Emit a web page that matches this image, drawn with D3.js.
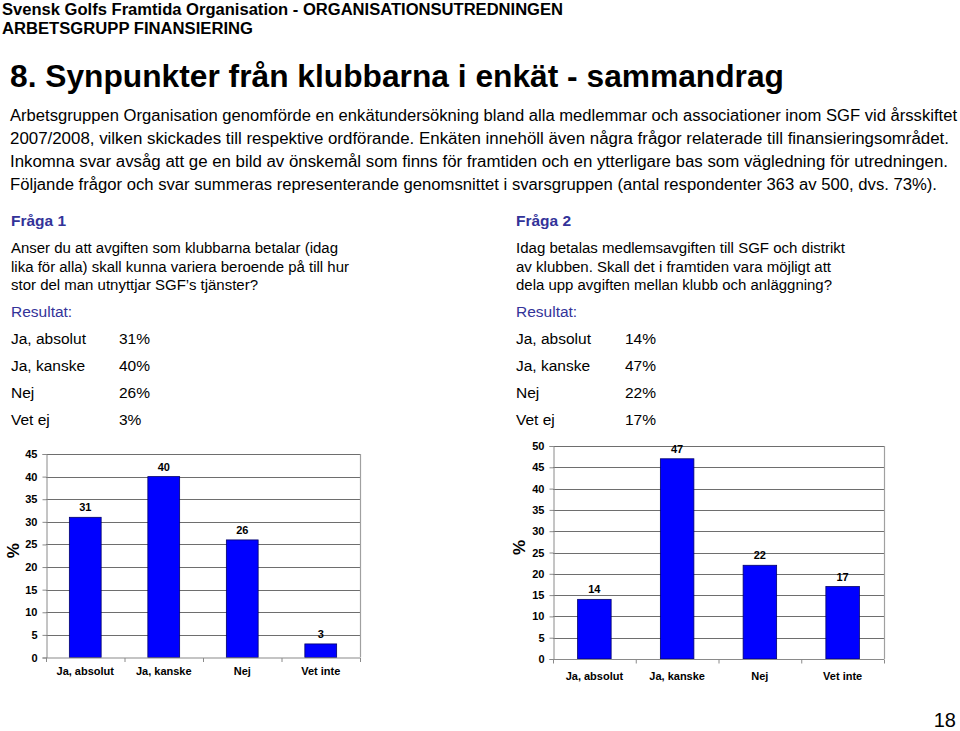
<!DOCTYPE html>
<html>
<head>
<meta charset="utf-8">
<script src="https://cdn.jsdelivr.net/npm/d3@7"></script>
<style>
  html, body { margin: 0; padding: 0; background: #fff; }
  svg { display: block; font-family: "Liberation Sans", Arial, sans-serif; }
</style>
</head>
<body>
<svg id="chart" width="960" height="731"></svg>
<script>
// ---- data ----
const headerLines = ["Svensk Golfs Framtida Organisation - ORGANISATIONSUTREDNINGEN", "ARBETSGRUPP FINANSIERING"];
const pageTitle = "8. Synpunkter från klubbarna i enkät - sammandrag";
const introLines = [
  "Arbetsgruppen Organisation genomförde en enkätundersökning bland alla medlemmar och associationer inom SGF vid årsskiftet",
  "2007/2008, vilken skickades till respektive ordförande. Enkäten innehöll även några frågor relaterade till finansieringsområdet.",
  "Inkomna svar avsåg att ge en bild av önskemål som finns för framtiden och en ytterligare bas som vägledning för utredningen.",
  "Följande frågor och svar summeras representerande genomsnittet i svarsgruppen (antal respondenter 363 av 500, dvs. 73%)."
];
const q1Title = "Fråga 1";
const q1Text = ["Anser du att avgiften som klubbarna betalar (idag", "lika för alla) skall kunna variera beroende på till hur", "stor del man utnyttjar SGF’s tjänster?"];
const q2Title = "Fråga 2";
const q2Text = ["Idag betalas medlemsavgiften till SGF och distrikt", "av klubben. Skall det i framtiden vara möjligt att", "dela upp avgiften mellan klubb och anläggning?"];
const resultLabel = "Resultat:";
const answerLabels = ["Ja, absolut", "Ja, kanske", "Nej", "Vet ej"];
const q1Values = [31, 40, 26, 3];
const q2Values = [14, 47, 22, 17];
const chartCategories = ["Ja, absolut", "Ja, kanske", "Nej", "Vet inte"];
const q1Ticks = [0, 5, 10, 15, 20, 25, 30, 35, 40, 45];
const q2Ticks = [0, 5, 10, 15, 20, 25, 30, 35, 40, 45, 50];
const yAxisLabel = "%";
const pageNumber = "18";

// ---- drawing ----
const svg = d3.select("#chart");
const navy = "#333399";

// header
svg.selectAll("text.hdr").data(headerLines).join("text")
  .attr("class", "hdr")
  .attr("x", 2).attr("y", (d, i) => 14.5 + i * 19)
  .attr("font-size", 16).attr("font-weight", "bold").attr("fill", "#000")
  .attr("textLength", (d, i) => i === 0 ? 561 : 251).attr("lengthAdjust", "spacingAndGlyphs")
  .text(d => d);

// title
svg.append("text").attr("x", 10).attr("y", 87)
  .attr("font-size", 31.5).attr("font-weight", "bold")
  .attr("textLength", 774).attr("lengthAdjust", "spacingAndGlyphs")
  .text(pageTitle);

// intro paragraph
const introEnds = [957, 949, 948, 937];
svg.selectAll("text.intro").data(introLines).join("text")
  .attr("class", "intro")
  .attr("x", 10).attr("y", (d, i) => 121 + i * 23)
  .attr("font-size", 16)
  .attr("textLength", (d, i) => introEnds[i] - 10)
  .attr("lengthAdjust", "spacingAndGlyphs")
  .text(d => d);

function questionBlock(x0, valX, title, lines, ends, values) {
  const g = svg.append("g");
  g.append("text").attr("x", x0).attr("y", 226).attr("font-size", 15.5)
    .attr("font-weight", "bold").attr("fill", navy).text(title);
  g.selectAll("text.q").data(lines).join("text").attr("class", "q")
    .attr("x", x0).attr("y", (d, i) => 253 + i * 18.7).attr("font-size", 15.5)
    .attr("textLength", (d, i) => ends[i] - x0).attr("lengthAdjust", "spacingAndGlyphs")
    .text(d => d);
  g.append("text").attr("x", x0).attr("y", 317).attr("font-size", 15.5)
    .attr("fill", navy).text(resultLabel);
  const rows = g.selectAll("g.row").data(answerLabels).join("g").attr("class", "row")
    .attr("transform", (d, i) => `translate(0, ${343.5 + i * 27.2})`);
  rows.append("text").attr("x", x0).attr("font-size", 15.5).text(d => d);
  rows.append("text").attr("x", valX).attr("font-size", 15.5).text((d, i) => values[i] + "%");
}
questionBlock(11, 119, q1Title, q1Text, [338, 349, 258], q1Values);
questionBlock(516, 625, q2Title, q2Text, [845, 831, 832], q2Values);

function barChart(opts) {
  const { left, right, top, bottom, max, ticks, values, labelX, catDy } = opts;
  const g = svg.append("g");
  const x = d3.scaleBand().domain(chartCategories).range([left, right])
    .paddingInner(0.595).paddingOuter(0.595 / 2);
  const y = d3.scaleLinear().domain([0, max]).range([bottom, top]);

  // gridlines
  g.selectAll("line.grid").data(ticks.filter(t => t > 0)).join("line")
    .attr("class", "grid")
    .attr("x1", left).attr("x2", right)
    .attr("y1", d => Math.round(y(d)) + 0.5).attr("y2", d => Math.round(y(d)) + 0.5)
    .attr("stroke", "#6e6e6e").attr("stroke-width", 1.2);
  // right border
  g.append("line").attr("x1", right + 0.5).attr("x2", right + 0.5)
    .attr("y1", y(max)).attr("y2", bottom)
    .attr("stroke", "#a0a0a0").attr("stroke-width", 1.2);

  // bars
  g.selectAll("rect.bar").data(values).join("rect").attr("class", "bar")
    .attr("x", (d, i) => x(chartCategories[i]))
    .attr("width", x.bandwidth())
    .attr("y", d => y(d))
    .attr("height", d => bottom - y(d))
    .attr("fill", "#0000ff").attr("stroke", "#00006a").attr("stroke-width", 0.8);

  // value labels
  g.selectAll("text.val").data(values).join("text").attr("class", "val")
    .attr("x", (d, i) => x(chartCategories[i]) + x.bandwidth() / 2)
    .attr("y", d => y(d) - 6)
    .attr("text-anchor", "middle").attr("font-size", 11).attr("font-weight", "bold")
    .text(d => d);

  // y axis
  const ya = g.append("g").attr("transform", `translate(${left + 0.5},0)`)
    .call(d3.axisLeft(y).tickValues(ticks).tickSize(4).tickPadding(5));
  ya.selectAll("path, line").attr("stroke", "#8a8a8a");
  ya.selectAll("text").attr("font-size", 11).attr("font-weight", "bold")
    .attr("font-family", "Liberation Sans, Arial, sans-serif").attr("fill", "#000");

  // x axis (tick marks at band boundaries)
  const xa = g.append("g").attr("transform", `translate(0,${bottom + 0.5})`);
  xa.append("line").attr("x1", left).attr("x2", right).attr("stroke", "#8a8a8a").attr("stroke-width", 1.2);
  const step = x.step();
  xa.selectAll("line.tk").data(d3.range(chartCategories.length + 1)).join("line").attr("class", "tk")
    .attr("x1", i => left + i * step + 0.5).attr("x2", i => left + i * step + 0.5)
    .attr("y1", 0).attr("y2", 4).attr("stroke", "#8a8a8a");
  xa.selectAll("text").data(chartCategories).join("text")
    .attr("x", d => x(d) + x.bandwidth() / 2).attr("y", catDy)
    .attr("text-anchor", "middle").attr("font-size", 11).attr("font-weight", "bold")
    .text(d => d);

  // y label
  g.append("text").attr("transform", `translate(${labelX},${(top + bottom) / 2 - 5}) rotate(-90)`)
    .attr("text-anchor", "middle").attr("font-size", 17).attr("font-weight", "bold").text(yAxisLabel);
}

barChart({ left: 46, right: 360, top: 454, bottom: 657.5, max: 45, ticks: q1Ticks, values: q1Values, labelX: 19, catDy: 17 });
barChart({ left: 553, right: 884, top: 446, bottom: 659, max: 50, ticks: q2Ticks, values: q2Values, labelX: 525, catDy: 20 });

// page number
svg.append("text").attr("x", 956).attr("y", 727).attr("text-anchor", "end")
  .attr("font-size", 20).text(pageNumber);
</script>
</body>
</html>
